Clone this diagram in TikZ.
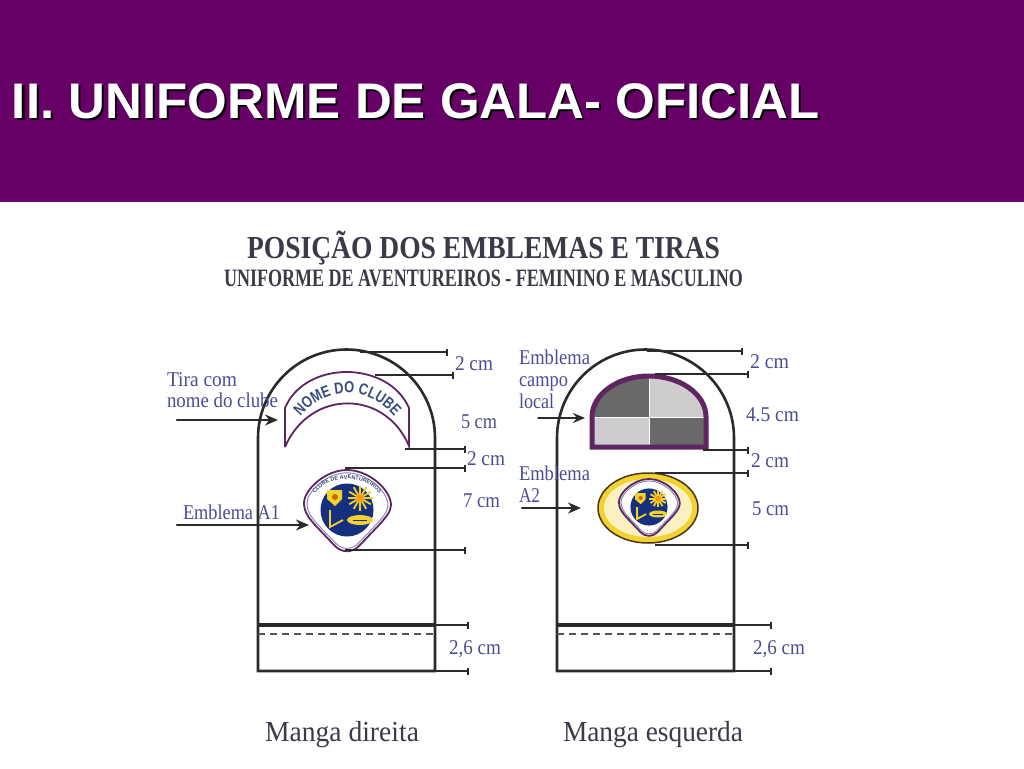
\documentclass[tikz,border=0pt]{standalone}
\usepackage{fontspec}
\usepackage{graphicx}
\setmainfont{Liberation Serif}
\setsansfont{Liberation Sans}
\newfontfamily\tiranarrow[FakeStretch=.8]{Liberation Sans}
\usetikzlibrary{arrows.meta,decorations.text}
\definecolor{band}{HTML}{660066}
\definecolor{lab}{HTML}{4C4C94}
\definecolor{ink}{HTML}{2A2A2A}
\definecolor{head}{HTML}{3A3A48}
\definecolor{plum}{HTML}{5E2560}
\definecolor{navy}{HTML}{14307F}
\definecolor{sunny}{HTML}{F2D22E}
\definecolor{darkq}{HTML}{696969}
\definecolor{lightq}{HTML}{CDCDCD}
% name, x-left, baseline y, width, font size, text
\newcommand\fwtxt[7][lab]{\node[anchor=base west,inner sep=0pt,outer sep=0pt,text=#1] (#2) at (#3,#4) {\resizebox{#5pt}{\height}{\fontsize{#6}{#6}\selectfont #7}};}
\tikzset{
  sleeve/.style={draw=ink,line width=2.6pt,line join=miter},
  dimthick/.style={draw=ink,line width=2.8pt,-{Bar[width=7pt,line width=2.4pt]}},
  dimthin/.style={draw=ink,line width=1.3pt,-{Bar[width=7pt,line width=2.4pt]}},
  pointer/.style={draw=ink,line width=2.6pt,line cap=round,-{Stealth[length=13pt,width=11pt]}},
  pointerthin/.style={draw=ink,line width=1.5pt,line cap=round,-{Stealth[length=12pt,width=10pt]}},
  hem/.style={draw=ink,line width=4pt},
  stitch/.style={draw=ink!80,line width=2pt,dash pattern=on 7pt off 5pt}
}
% emblem core around the origin
\newcommand\badgepath{(0,-40) .. controls (22,-40) and (44,-20) .. (44,-5) .. controls (44,2) and (38,8) .. (32,15) -- (12,36) .. controls (5,43) and (-5,43) .. (-12,36) -- (-32,15) .. controls (-38,8) and (-43,2) .. (-43,-7) .. controls (-43,-20) and (-22,-40) .. (0,-40) -- cycle}
\newcommand\emblemcore{%
  \fill[white] \badgepath;
  \draw[plum,line width=1.8pt] \badgepath;
  \draw[lab!70,line width=.9pt,scale=.93] \badgepath;
  \fill[navy] (0,0) circle[radius=26.5pt];
  \foreach \a in {0,30,...,330}{\draw[sunny,line width=1.8pt] (13,-12) -- ++(\a:12.5pt);}
  \fill[orange!70!sunny] (13,-12) circle[radius=4pt];
  \fill[sunny] (-20,-20) -- (-5,-20) -- (-5,-11) -- (-12,-4) -- (-20,-11) -- cycle;
  \fill[orange!80!black] (-12,-13) circle[radius=3pt];
  \draw[sunny,line width=1.8pt] (-17,0) -- (-17,17) -- (-4,10);
  \fill[sunny] (13,10) ellipse[x radius=13pt,y radius=5pt];
  \draw[navy,line width=.7pt] (6,10) -- (20,10);
}
\begin{document}
\begin{tikzpicture}[x=1pt,y=-1pt]
\useasboundingbox (0,0) rectangle (1024,768);
\fill[white] (0,0) rectangle (1024,768);
\fill[band] (0,0) rectangle (1024,202);
% title
\fwtxt[black]{titleshadow}{14}{120}{808}{50}{\sffamily\bfseries II. UNIFORME DE GALA- OFICIAL}
\fwtxt[white]{title}{12}{118}{808}{50}{\sffamily\bfseries II. UNIFORME DE GALA- OFICIAL}
% headings
\fwtxt[head]{headone}{247}{258}{473}{32}{\bfseries POSIÇÃO DOS EMBLEMAS E TIRAS}
\fwtxt[head]{headtwo}{224}{286}{519}{25}{\bfseries UNIFORME DE AVENTUREIROS - FEMININO E MASCULINO}

% ---------- left sleeve
\draw[sleeve] (435,671) -- (435,438) arc[start angle=0,end angle=180,radius=88.5pt] -- (258,671) -- cycle;
\draw[hem] (258,625) -- (435,625);
\draw[stitch] (258,634) -- (435,634);

% tira
\fill[white] (285,447) -- (285,408) .. controls (305,360) and (388,360) .. (409,408) -- (409,446) .. controls (385,389) and (310,389) .. (285,447) -- cycle;
\draw[plum,line width=1.8pt] (285,447) -- (285,408) .. controls (305,360) and (388,360) .. (409,408) -- (409,446) .. controls (385,389) and (310,389) .. (285,447);
\path[decorate,decoration={text along path,text align=center,text={|\fontsize{16}{16}\selectfont\tiranarrow\bfseries\color{navy!65!gray}|NOME DO CLUBE}}]
  (290,432) .. controls (318,380) and (376,380) .. (405,432);

% emblema A1
\begin{scope}[shift={(347,510)}]
  \emblemcore
  \path[decorate,decoration={text along path,text align=center,text={|\fontsize{5.5}{5.5}\selectfont\sffamily\bfseries\color{navy!70!gray}|CLUBE DE AVENTUREIROS}}]
    (-33,6) .. controls (-40,-22) and (-18,-31) .. (0,-31) .. controls (18,-31) and (40,-22) .. (33,6);
\end{scope}

% left dimension lines
\coordinate (la) at (360,352); \coordinate (lb) at (448,352);
\coordinate (lc) at (375,375); \coordinate (ld) at (454,375);
\coordinate (le) at (405,449); \coordinate (lf) at (466,449);
\coordinate (lg) at (345,468); \coordinate (lh) at (466,468);
\coordinate (li) at (345,550); \coordinate (lj) at (466,550);
\coordinate (lk) at (435,625); \coordinate (ll) at (469,625);
\coordinate (lm) at (346,671); \coordinate (ln) at (469,671);
\draw[dimthick] (la) -- (lb);
\draw[dimthin] (lc) -- (ld);
\draw[dimthick] (le) -- (lf);
\draw[dimthick] (lg) -- (lh);
\draw[dimthick] (li) -- (lj);
\draw[dimthick] (lk) -- (ll);
\draw[dimthick] (lm) -- (ln);
% left pointers
\coordinate (lp) at (177,420); \coordinate (lq) at (278,420);
\coordinate (lr) at (177,525); \coordinate (ls) at (309,525);
\draw[pointer] (lp) -- (lq);
\draw[pointer] (lr) -- (ls);

% left labels
\fwtxt{tiraa}{167}{386}{70}{21}{Tira com}
\fwtxt{tirab}{167}{407}{111}{21}{nome do clube}
\fwtxt{emba}{183}{519}{97}{21}{Emblema A1}
\fwtxt{lcma}{455}{370}{38}{21}{2 cm}
\fwtxt{lcmb}{461}{428}{36}{21}{5 cm}
\fwtxt{lcmc}{467}{465}{38}{21}{2 cm}
\fwtxt{lcmd}{463}{507}{37}{21}{7 cm}
\fwtxt{lcme}{449}{654}{52}{21}{2,6 cm}
\fwtxt[head]{mangad}{265}{741}{154}{29}{Manga direita}

% ---------- right sleeve
\draw[sleeve] (734,671) -- (734,438) arc[start angle=0,end angle=180,radius=88.5pt] -- (557,671) -- cycle;
\draw[hem] (557,625) -- (734,625);
\draw[stitch] (557,634) -- (734,634);

% campo local
\fill[darkq] (592,417) arc[start angle=180,end angle=90,x radius=57pt,y radius=41pt] -- (649,417) -- cycle;
\fill[lightq] (649,376) arc[start angle=90,end angle=0,x radius=57pt,y radius=41pt] -- (649,417) -- cycle;
\fill[lightq] (592,417) rectangle (649,447);
\fill[darkq] (649,417) rectangle (706,447);
\draw[white,line width=.8pt] (649,376) -- (649,445) (594,417) -- (704,417);
\draw[plum,line width=5pt,line join=miter] (592,447) -- (592,417) arc[start angle=180,end angle=0,x radius=57pt,y radius=41pt] -- (706,447) -- cycle;

% emblema A2
\fill[sunny] (648,508) ellipse[x radius=50pt,y radius=35pt];
\fill[sunny!30!white] (648,508) ellipse[x radius=44pt,y radius=29pt];
\draw[black!60!brown,line width=1.5pt] (648,508) ellipse[x radius=50pt,y radius=35pt];
\begin{scope}[shift={(649,507)},scale=.7]
  \emblemcore
\end{scope}

% right dimension lines
\coordinate (ra) at (647,351); \coordinate (rb) at (743,351);
\coordinate (rc) at (655,374); \coordinate (rd) at (749,374);
\coordinate (re) at (703,450); \coordinate (rf) at (749,450);
\coordinate (rg) at (655,473); \coordinate (rh) at (749,473);
\coordinate (ri) at (655,545); \coordinate (rj) at (749,545);
\coordinate (rk) at (734,625); \coordinate (rl) at (772,625);
\coordinate (rm) at (645,671); \coordinate (rn) at (772,671);
\draw[dimthick] (ra) -- (rb);
\draw[dimthick] (rc) -- (rd);
\draw[dimthick] (re) -- (rf);
\draw[dimthin] (rg) -- (rh);
\draw[dimthick] (ri) -- (rj);
\draw[dimthick] (rk) -- (rl);
\draw[dimthick] (rm) -- (rn);
% right pointers
\coordinate (rp) at (538,418); \coordinate (rq) at (585,418);
\coordinate (rr) at (522,508); \coordinate (rs) at (581,508);
\draw[pointerthin] (rp) -- (rq);
\draw[pointer] (rr) -- (rs);

% right labels
\fwtxt{emcampoa}{519}{364}{71}{21}{Emblema}
\fwtxt{emcampob}{519}{386}{49}{21}{campo}
\fwtxt{emcampoc}{519}{408}{35}{21}{local}
\fwtxt{embb}{519}{480}{71}{21}{Emblema}
\fwtxt{embc}{519}{502}{21}{21}{A2}
\fwtxt{rcma}{750}{368}{39}{21}{2 cm}
\fwtxt{rcmb}{746}{421}{53}{21}{4.5 cm}
\fwtxt{rcmc}{751}{467}{38}{21}{2 cm}
\fwtxt{rcmd}{752}{515}{37}{21}{5 cm}
\fwtxt{rcme}{753}{654}{52}{21}{2,6 cm}
\fwtxt[head]{mangae}{563}{741}{180}{29}{Manga esquerda}
\end{tikzpicture}
\end{document}
